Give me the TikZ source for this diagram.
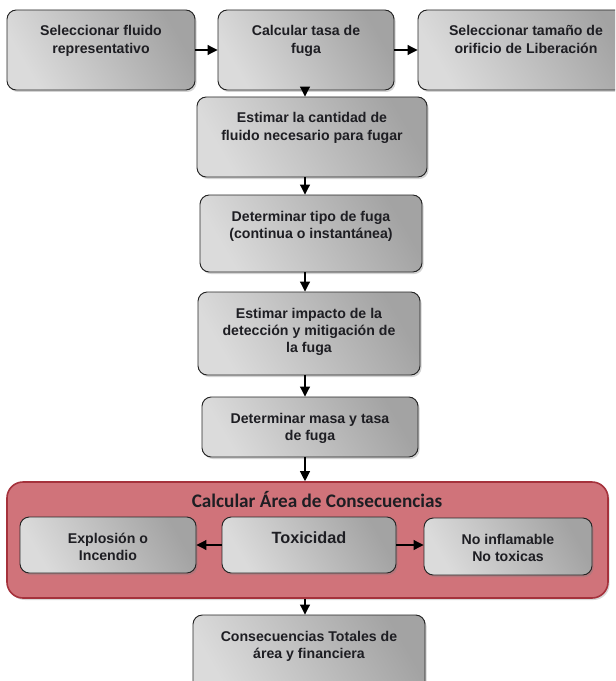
\documentclass[tikz,border=0pt]{standalone}
\usepackage{fontspec}
\setmainfont{Liberation Sans}
\newfontfamily\titlefont{Carlito}
\usetikzlibrary{arrows.meta,shadows}

\definecolor{rojoborde}{RGB}{165,50,60}
\definecolor{rojoclaro}{RGB}{230,165,168}
\definecolor{rojomedio}{RGB}{208,115,122}
\definecolor{texto}{RGB}{30,30,35}

\tikzset{
  caja/.style={rectangle, rounded corners=7pt, draw=gray!30!black, line width=0.7pt,
    top color=gray!72, middle color=gray!40, bottom color=gray!28, shading angle=-60,
    drop shadow={opacity=0.35, shadow xshift=1.2pt, shadow yshift=-1.5pt},
    align=center, inner xsep=3pt, inner ysep=0pt,
    font=\fontsize{10.6}{13.1}\selectfont\bfseries, text=texto},
  zona/.style={rectangle, rounded corners=12pt, draw=rojoborde, line width=1.2pt,
    top color=rojomedio, middle color=rojoclaro, bottom color=rojomedio,
    drop shadow={opacity=0.3, shadow xshift=1.2pt, shadow yshift=-1.5pt}},
  flecha/.style={-{Triangle[length=7.5pt,width=7.5pt]}, line width=0.8pt, black},
}

\begin{document}
\begin{tikzpicture}[x=0.75pt,y=-0.75pt]
\clip (0,0) rectangle (615,681);
\coordinate (eje) at (305,0);

% fila superior
\node[caja, minimum width=141pt, text height=32.6pt, text depth=27.4pt] (sel) at (101,50) {Seleccionar fluido\\representativo};
\node[caja, minimum width=132pt, text height=32.6pt, text depth=27.4pt] (tasa) at (306,50) {Calcular tasa de\\fuga};
\node[caja, minimum width=162pt, text height=32.6pt, text depth=27.4pt] (orif) at (526,50) {Seleccionar tamaño de\\orificio de Liberación};

% columna central
\node[caja, minimum width=172.5pt, text height=32.6pt, text depth=27.4pt] (cant) at (312,137) {Estimar la cantidad de\\fluido necesario para fugar};
\node[caja, minimum width=166.5pt, text height=32.6pt, text depth=25.15pt] (tipo) at (311,233.5) {Determinar tipo de fuga\\(continua o instantánea)};
\node[caja, minimum width=166.5pt, text height=45.7pt, text depth=16.55pt] (imp) at (309,333.5) {Estimar impacto de la\\detección y mitigación de\\la fuga};
\node[caja, minimum width=162pt, text height=32.6pt, text depth=12.4pt] (masa) at (310,427) {Determinar masa y tasa\\de fuga};

% area de consecuencias
\node[zona, minimum width=450.75pt, minimum height=87pt] (area) at (307.5,540) {};
\node[text=texto, font=\titlefont\bfseries\fontsize{14.4}{16}\selectfont] (titulo) at (317,500) {Calcular Área de Consecuencias};
\node[caja, minimum width=132pt, text height=32.6pt, text depth=9.4pt] (expl) at (108,545) {Explosión o\\Incendio};
\node[caja, minimum width=130.5pt, text height=19.5pt, text depth=22.5pt, font=\fontsize{12.2}{14}\selectfont\bfseries] (tox) at (309,545) {Toxicidad};
\node[caja, minimum width=126pt, text height=32.6pt, text depth=10.15pt] (noinf) at (508,546.5) {No inflamable\\No toxicas};

\node[caja, minimum width=174pt, text height=32.6pt, text depth=31.15pt] (tot) at (309,657.5) {Consecuencias Totales de\\área y financiera};

% flechas
\draw[flecha] (sel) -- (tasa);
\draw[flecha] (tasa) -- (orif);
\draw[flecha] (tasa.south -| eje) -- (cant.north -| eje);
\draw[flecha] (cant.south -| eje) -- (tipo.north -| eje);
\draw[flecha] (tipo.south -| eje) -- (imp.north -| eje);
\draw[flecha] (imp.south -| eje) -- (masa.north -| eje);
\draw[flecha] (masa.south -| eje) -- (area.north -| eje);
\draw[flecha] (tox.west) -- (expl.east |- tox.west);
\draw[flecha] (tox.east) -- (noinf.west |- tox.east);
\draw[flecha] (area.south -| eje) -- (tot.north -| eje);
\end{tikzpicture}
\end{document}
